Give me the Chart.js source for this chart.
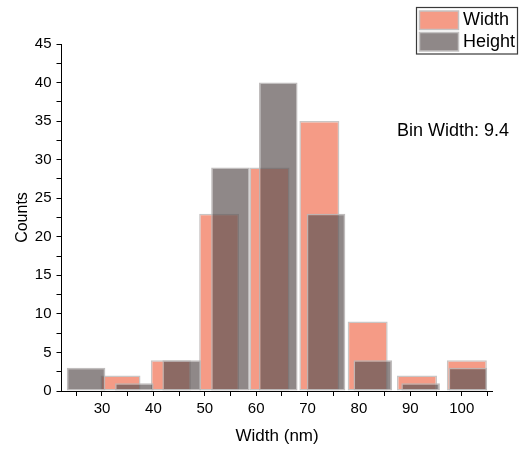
<!DOCTYPE html>
<html><head><meta charset="utf-8">
<script src="https://cdn.jsdelivr.net/npm/chart.js@4"></script>
<style>html,body{margin:0;padding:0;background:#fff}#wrap{width:524px;height:449px}</style>
</head><body><div id="wrap"><canvas id="c" width="524" height="449"></canvas></div>
<script>
// ---- data ----
const seriesNames = ['Width', 'Height'];
const widthCenters = [33.6, 43.4, 52.8, 62.6, 72.3, 81.7, 91.3, 101.0];
const widthCounts  = [2, 4, 23, 29, 35, 9, 2, 4];
const heightCenters = [26.9, 36.3, 45.5, 55.0, 64.3, 73.6, 82.7, 92.0, 101.2];
const heightCounts  = [3, 1, 4, 29, 40, 23, 4, 1, 3];
const xTickValues = [25, 30, 35, 40, 45, 50, 55, 60, 65, 70, 75, 80, 85, 90, 95, 100, 105];
const xLabelValues = [30, 40, 50, 60, 70, 80, 90, 100];
const yTickValues = [0, 2.5, 5, 7.5, 10, 12.5, 15, 17.5, 20, 22.5, 25, 27.5, 30, 32.5, 35, 37.5, 40, 42.5, 45];
const yLabelValues = [0, 5, 10, 15, 20, 25, 30, 35, 40, 45];
const xRange = [22.12, 106.03];
const yRange = [0, 45];
const xTitle = 'Width (nm)';
const yTitle = 'Counts';
const note = 'Bin Width: 9.4';

// ---- styling ----
const FONT = '"Liberation Sans", Arial, sans-serif';
const salmon = '#F59B86';
const salmonBorder = '#C9C6C5';
const grayFill = 'rgba(95,86,86,0.7)';
const grayBorder = 'rgba(185,182,182,0.9)';

const widthData = widthCenters.map((x, i) => ({x, y: widthCounts[i]}));
const heightData = heightCenters.map((x, i) => ({x, y: heightCounts[i]}));

const hiddenX = {
  type: 'linear', axis: 'x', position: 'bottom', display: false,
  min: xRange[0], max: xRange[1], offset: false, grid: {offset: false},
  ticks: {stepSize: 1000}
};

const overlay = {
  id: 'overlay',
  afterDraw(chart) {
    const ctx = chart.ctx;
    ctx.save();
    // legend frame
    ctx.strokeStyle = '#3a3a3a';
    ctx.lineWidth = 1.2;
    ctx.strokeRect(416.5, 7.5, 101, 46.5);
    const ds = chart.data.datasets;
    const rows = [{y: 11, c: ds[0].backgroundColor, t: ds[0].label},
                  {y: 32.5, c: ds[1].backgroundColor, t: ds[1].label}];
    ctx.font = '18px ' + FONT;
    ctx.textBaseline = 'middle';
    ctx.textAlign = 'left';
    rows.forEach(r => {
      ctx.fillStyle = '#fff';
      ctx.fillRect(419.5, r.y, 39, 18.5);
      ctx.fillStyle = r.c;
      ctx.fillRect(419.5, r.y, 39, 18.5);
      ctx.strokeStyle = '#c4c2c2';
      ctx.lineWidth = 1.5;
      ctx.strokeRect(419.5, r.y, 39, 18.5);
      ctx.fillStyle = '#000';
      ctx.fillText(r.t, 463, r.y + 9.5);
    });
    // note
    ctx.font = '18px ' + FONT;
    ctx.textAlign = 'center';
    ctx.fillStyle = '#000';
    ctx.fillText(note, 453, 131);
    ctx.restore();
  }
};

new Chart(document.getElementById('c'), {
  type: 'bar',
  data: {
    datasets: [
      {label: seriesNames[0], data: widthData, xAxisID: 'xw', yAxisID: 'y', order: 1,
       backgroundColor: salmon, borderColor: salmonBorder, borderWidth: 1.5, borderSkipped: false,
       barPercentage: 0.828, categoryPercentage: 1, grouped: false},
      {label: seriesNames[1], data: heightData, xAxisID: 'xh', yAxisID: 'y', order: 0,
       backgroundColor: grayFill, borderColor: grayBorder, borderWidth: 1.5, borderSkipped: false,
       barPercentage: 0.825, categoryPercentage: 1, grouped: false}
    ]
  },
  options: {
    responsive: false, animation: false, devicePixelRatio: 1,
    layout: {padding: {left: 0, right: 31.3, top: 44, bottom: 0}},
    plugins: {legend: {display: false}, tooltip: {enabled: false}},
    scales: {
      x: {
        type: 'linear', position: 'bottom', min: xRange[0], max: xRange[1], offset: false,
        afterBuildTicks: s => { s.ticks = xTickValues.map(v => ({value: v})); },
        afterFit: s => { s.height = 58; },
        grid: {offset: false, drawOnChartArea: false, drawTicks: true, tickLength: 5, tickColor: '#000', tickWidth: 1},
        border: {display: true, color: '#000', width: 1},
        ticks: {autoSkip: false, maxRotation: 0, padding: 4, color: '#000', font: {family: FONT, size: 15},
                callback: v => xLabelValues.includes(v) ? String(v) : ''},
        title: {display: true, text: xTitle, color: '#000', font: {family: FONT, size: 17}, padding: {top: 0, bottom: 2.8}}
      },
      xw: hiddenX,
      xh: Object.assign({}, hiddenX),
      y: {
        type: 'linear', position: 'left', min: yRange[0], max: yRange[1],
        afterBuildTicks: s => { s.ticks = yTickValues.map(v => ({value: v})); },
        afterFit: s => { s.width = 61.5; },
        grid: {drawOnChartArea: false, drawTicks: true, tickLength: 5, tickColor: '#000', tickWidth: 1},
        border: {display: true, color: '#000', width: 1},
        ticks: {autoSkip: false, padding: 5, color: '#000', font: {family: FONT, size: 15},
                callback: v => yLabelValues.includes(v) ? String(v) : ''},
        title: {display: true, text: yTitle, color: '#000', font: {family: FONT, size: 16}, padding: {top: 13, bottom: 0}}
      }
    }
  },
  plugins: [overlay]
});
</script>
</body></html>
